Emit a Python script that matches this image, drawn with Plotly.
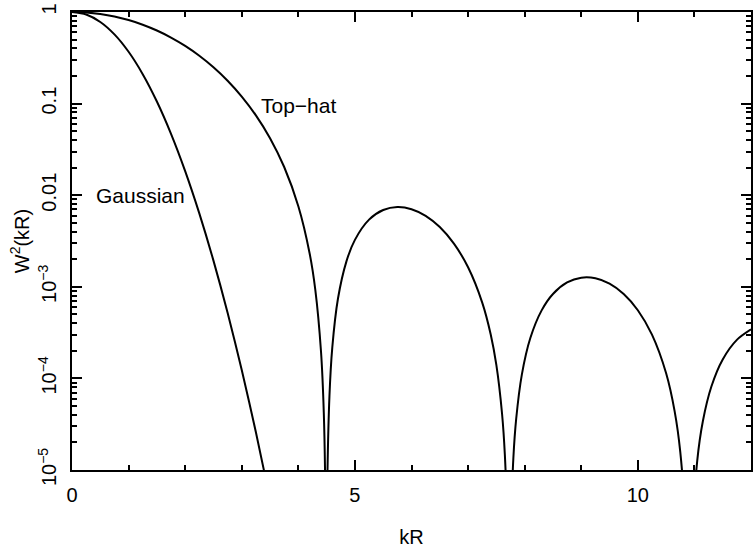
import plotly.graph_objects as go

# Top-hat window squared
tophat_x = [0, 0.25, 0.5, 0.75, 1.0, 1.25, 1.5, 1.75, 2.0, 2.25, 2.5, 2.75, 3.0, 3.25, 3.5, 3.75,
            4.0, 4.2, 4.3, 4.4, 4.45, 4.48, 4.4934, 4.51, 4.55, 4.6, 4.7, 4.85, 5.0, 5.25, 5.5, 5.75,
            6.0, 6.25, 6.5, 6.75, 7.0, 7.25, 7.4, 7.5, 7.6, 7.65, 7.7, 7.7253, 7.75, 7.8, 7.85, 7.95,
            8.1, 8.3, 8.5, 8.75, 9.0, 9.25, 9.5, 9.75, 10.0, 10.25, 10.5, 10.65, 10.75, 10.85, 10.9041,
            10.95, 11.05, 11.15, 11.3, 11.5, 11.75, 12.0]
tophat_y = [1.0, 0.98757, 0.95106, 0.89277, 0.81632, 0.72628, 0.62781, 0.52621, 0.42654, 0.33313,
            0.24946, 0.17785, 0.11949, 0.074476, 0.04194, 0.020317, 0.0075834, 0.0023122, 9.278e-4,
            1.991e-4, 4.207e-5, 3.83e-6, 1e-9, 5.70e-6, 6.402e-5, 2.1685e-4, 7.404e-4, 1.896e-3,
            3.2551e-3, 5.4088e-3, 6.8895e-3, 7.4239e-3, 7.0384e-3, 5.9546e-3, 4.4882e-3, 2.9602e-3,
            1.633e-3, 6.726e-4, 3.018e-4, 1.3964e-4, 4.141e-5, 1.461e-5, 1.6e-6, 1e-9, 1.5e-6,
            1.334e-5, 3.609e-5, 1.1012e-4, 2.7592e-4, 5.5314e-4, 8.35e-4, 1.1154e-3, 1.2561e-3,
            1.2381e-3, 1.0814e-3, 8.335e-4, 5.5414e-4, 3.0016e-4, 1.1364e-4, 4.391e-5, 1.575e-5,
            1.88e-6, 1e-9, 1.306e-6, 1.265e-5, 3.4224e-5, 8.147e-5, 1.6103e-4, 2.6342e-4, 3.427e-4]

# Gaussian window squared
gauss_x = [0, 0.25, 0.5, 0.75, 1.0, 1.25, 1.5, 1.75, 2.0, 2.25, 2.5, 2.75, 3.0, 3.25, 3.5]
gauss_y = [1.0, 0.939413, 0.778801, 0.569783, 0.367879, 0.209611, 0.105399, 0.046771, 0.018316,
           0.00633, 0.0019305, 5.199e-4, 1.2341e-4, 2.588e-5, 4.785e-6]

y_tickvals = [1e-5, 1e-4, 1e-3, 1e-2, 1e-1, 1]
y_ticktext = ["10<sup>\u22125</sup>", "10<sup>\u22124</sup>", "10<sup>\u22123</sup>", "0.01", "0.1", "1"]
y_minor_vals = [m * 10.0 ** e for e in range(-5, 0) for m in range(2, 10)]
x_tickvals = [0, 5, 10]
x_ticktext = ["0", "5", "10"]
x_minor_vals = [v for v in range(0, 13) if v % 5 != 0]

# label text, x position, log10(y) position
labels = [("Top\u2212hat", 4.0, -1.02), ("Gaussian", 1.21, -2.0)]

FONT = "Arial"
line = dict(color="black", width=2, shape="spline", smoothing=0.8)

fig = go.Figure()
fig.add_trace(go.Scatter(x=tophat_x, y=tophat_y, mode="lines", line=line, showlegend=False))
fig.add_trace(go.Scatter(x=gauss_x, y=gauss_y, mode="lines", line=line, showlegend=False))
# invisible copy on the overlay axes so they are drawn
fig.add_trace(go.Scatter(x=gauss_x, y=gauss_y, mode="lines", xaxis="x2", yaxis="y2",
                         line=dict(width=0, color="rgba(0,0,0,0)"), hoverinfo="skip", showlegend=False))

for txt, xx, yy in labels:
    fig.add_annotation(x=xx, y=yy, xref="x", yref="y", text=txt, showarrow=False,
                       font=dict(family=FONT, size=21, color="black"))

tickstyle = dict(ticks="inside", ticklen=10, tickwidth=2, tickcolor="black",
                 showgrid=False, zeroline=False, layer="above traces")
xminor = dict(ticks="inside", tickmode="array", tickvals=x_minor_vals, ticklen=5,
              tickwidth=2, tickcolor="black", showgrid=False)
yminor = dict(ticks="inside", tickmode="array", tickvals=y_minor_vals, ticklen=5,
              tickwidth=2, tickcolor="black", showgrid=False)

fig.update_layout(
    xaxis=dict(range=[0, 12], tickmode="array", tickvals=x_tickvals, ticktext=x_ticktext,
               minor=xminor, showline=True, linecolor="black", linewidth=2, mirror="allticks",
               ticklabelstandoff=6, tickfont=dict(family=FONT, size=20, color="black"),
               title=dict(text="kR", font=dict(family=FONT, size=20, color="black"), standoff=26),
               **tickstyle),
    yaxis=dict(type="log", range=[-5, 0], tickmode="array", tickvals=y_tickvals, ticktext=y_ticktext,
               tickangle=-90, minor=yminor, showline=True, linecolor="black", linewidth=2,
               mirror="allticks", ticklabelstandoff=6,
               tickfont=dict(family=FONT, size=20, color="black"),
               title=dict(text="W<sup>2</sup>(kR)", font=dict(family=FONT, size=20, color="black"), standoff=0),
               **tickstyle),
    xaxis2=dict(range=[0, 12], overlaying="x", side="top", anchor="y2", tickmode="array",
                tickvals=x_tickvals, showticklabels=False, minor=xminor, showline=False,
                mirror="allticks", **tickstyle),
    yaxis2=dict(type="log", range=[-5, 0], overlaying="y", side="right", anchor="x2", tickmode="array",
                tickvals=y_tickvals, showticklabels=False, minor=yminor, showline=False,
                mirror="allticks", **tickstyle),
    width=755, height=548, margin=dict(l=72, r=2, t=12, b=73),
    font=dict(family=FONT, size=20, color="black"),
    plot_bgcolor="white", paper_bgcolor="white")
fig.write_html("out.html")
